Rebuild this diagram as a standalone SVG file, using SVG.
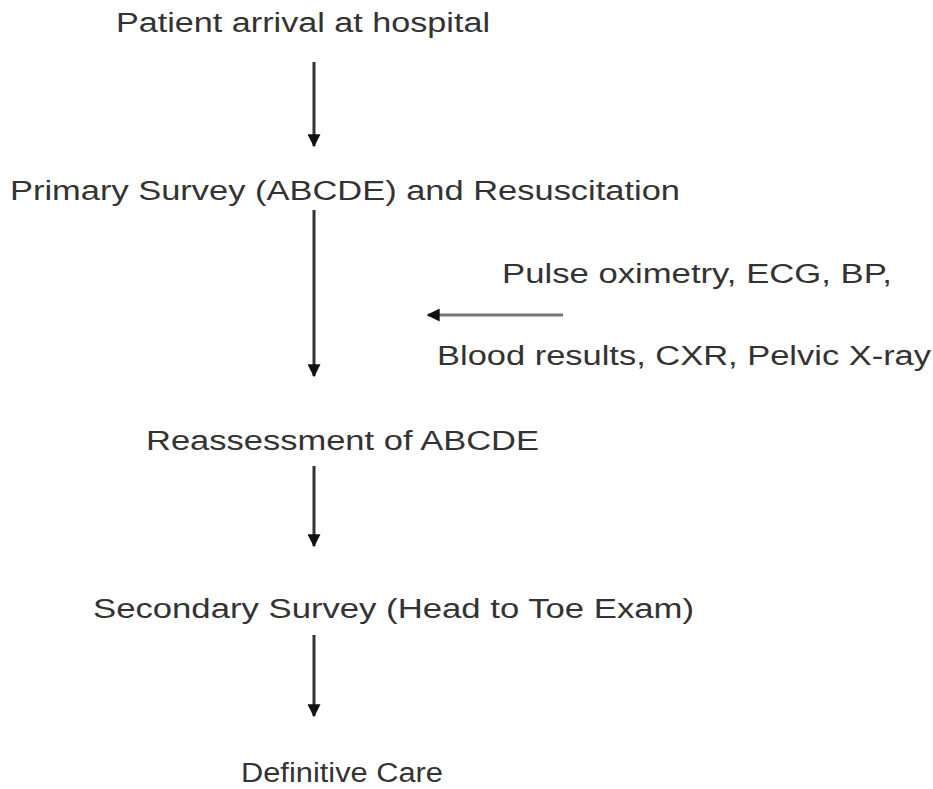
<svg xmlns="http://www.w3.org/2000/svg" width="933" height="789" viewBox="0 0 933 789">
<defs>
<style>
.t{font-family:"Liberation Sans",Arial,sans-serif;font-size:27px;fill:#333;}
.c{stroke:#333;stroke-width:3;fill:none;}
.h{stroke:#777;stroke-width:3;fill:none;}
</style>
<marker id="ah" viewBox="0 0 10 10" refX="9" refY="5" markerUnits="userSpaceOnUse" markerWidth="13" markerHeight="13" orient="auto">
<path d="M0,0 L10,5 L0,10 z" fill="#111"/>
</marker>
</defs>
<rect width="933" height="789" fill="#fff"/>
<g id="n1"><text class="t" x="116" y="32" textLength="374" lengthAdjust="spacingAndGlyphs">Patient arrival at hospital</text></g>
<g id="n2"><text class="t" x="10" y="200" textLength="670" lengthAdjust="spacingAndGlyphs">Primary Survey (ABCDE) and Resuscitation</text></g>
<g id="n3"><text class="t" x="502" y="283" textLength="390" lengthAdjust="spacingAndGlyphs">Pulse oximetry, ECG, BP,</text>
<text class="t" x="437" y="365" textLength="494" lengthAdjust="spacingAndGlyphs">Blood results, CXR, Pelvic X-ray</text></g>
<g id="n4"><text class="t" x="146" y="450" textLength="393" lengthAdjust="spacingAndGlyphs">Reassessment of ABCDE</text></g>
<g id="n5"><text class="t" x="93" y="618" textLength="601" lengthAdjust="spacingAndGlyphs">Secondary Survey (Head to Toe Exam)</text></g>
<g id="n6"><text class="t" x="241" y="782" textLength="202" lengthAdjust="spacingAndGlyphs">Definitive Care</text></g>
<g id="connectors">
<line class="c" x1="314" y1="62" x2="314" y2="146" marker-end="url(#ah)"/>
<line class="c" x1="314" y1="210" x2="314" y2="376" marker-end="url(#ah)"/>
<line class="c" x1="314" y1="466" x2="314" y2="546" marker-end="url(#ah)"/>
<line class="c" x1="314" y1="635" x2="314" y2="716" marker-end="url(#ah)"/>
<line class="h" x1="563" y1="315" x2="428" y2="315" marker-end="url(#ah)"/>
</g>
</svg>
